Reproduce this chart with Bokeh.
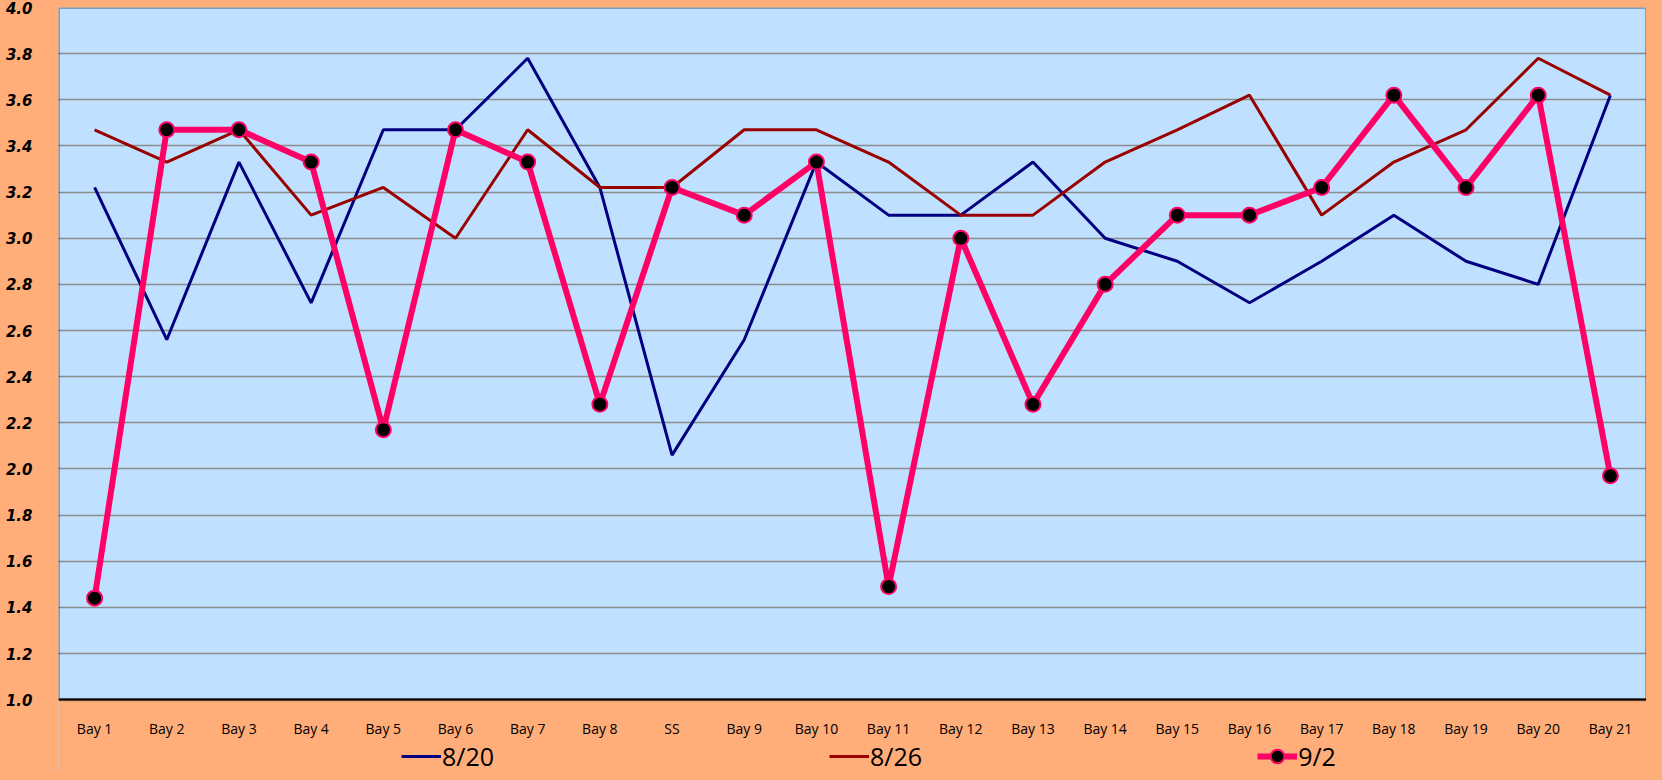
from bokeh.plotting import figure
from bokeh.models import (FactorRange, Range1d, Legend, LegendItem, FixedTicker,
                          NumeralTickFormatter, ColumnDataSource, BoxAnnotation)
from bokeh.embed import file_html
from bokeh.resources import INLINE

categories = ["Bay 1", "Bay 2", "Bay 3", "Bay 4", "Bay 5", "Bay 6", "Bay 7", "Bay 8", "SS",
              "Bay 9", "Bay 10", "Bay 11", "Bay 12", "Bay 13", "Bay 14", "Bay 15", "Bay 16",
              "Bay 17", "Bay 18", "Bay 19", "Bay 20", "Bay 21"]
s_0820 = [3.22, 2.56, 3.33, 2.72, 3.47, 3.47, 3.78, 3.22, 2.06, 2.56, 3.33, 3.10, 3.10,
          3.33, 3.00, 2.90, 2.72, 2.90, 3.10, 2.90, 2.80, 3.62]
s_0826 = [3.47, 3.33, 3.47, 3.10, 3.22, 3.00, 3.47, 3.22, 3.22, 3.47, 3.47, 3.33, 3.10,
          3.10, 3.33, 3.47, 3.62, 3.10, 3.33, 3.47, 3.78, 3.62]
s_0902 = [1.44, 3.47, 3.47, 3.33, 2.17, 3.47, 3.33, 2.28, 3.22, 3.10, 3.33, 1.49, 3.00,
          2.28, 2.80, 3.10, 3.10, 3.22, 3.62, 3.22, 3.62, 1.97]
series_labels = ["8/20", "8/26", "9/2"]
y_ticks = [1.0, 1.2, 1.4, 1.6, 1.8, 2.0, 2.2, 2.4, 2.6, 2.8, 3.0, 3.2, 3.4, 3.6, 3.8, 4.0]
y_min, y_max = 1.0, 4.0

ORANGE = "#FFAD79"
src = ColumnDataSource(dict(x=categories, a=s_0820, b=s_0826, c=s_0902))

# layout (pixels): value area 684 px tall; the frame continues below it as a label/legend strip
FIG_W, FIG_H, TOP, AREA_H, BELOW_PAD = 1646, 772, 7, 684, 9
strip = FIG_H - TOP - BELOW_PAD - AREA_H
y_lo = y_min - strip * (y_max - y_min) / AREA_H

p = figure(width=FIG_W, height=FIG_H, x_range=FactorRange(*categories),
           y_range=Range1d(y_lo, y_max),
           output_backend="svg", toolbar_location=None,
           min_border_left=58, min_border_right=0, min_border_top=TOP, min_border_bottom=0)
p.background_fill_color = "#C0E0FF"
p.border_fill_color = ORANGE
p.outline_line_color = None

p.xgrid.grid_line_color = None
p.ygrid.grid_line_color = "#8C8C8C"
p.ygrid.grid_line_width = 1.5

p.yaxis.ticker = FixedTicker(ticks=y_ticks)
p.yaxis.formatter = NumeralTickFormatter(format="0.0")
p.yaxis.major_label_text_font = "DejaVu Sans"
p.yaxis.major_label_text_font_style = "bold italic"
p.yaxis.major_label_text_font_size = "15px"
p.yaxis.major_label_text_color = "#000000"
p.yaxis.major_label_standoff = 20
p.yaxis.axis_line_color = None
p.yaxis.major_tick_line_color = None
p.yaxis.minor_tick_line_color = None

p.xaxis.fixed_location = y_min
p.xaxis.major_label_text_font = "Open Sans"
p.xaxis.major_label_text_font_size = "14px"
p.xaxis.major_label_text_color = "#000000"
p.xaxis.major_label_standoff = 13
p.xaxis.axis_line_color = "#000000"
p.xaxis.axis_line_width = 2
p.xaxis.major_tick_line_color = None
p.xaxis.minor_tick_line_color = None

# orange strip below the value area, and the dark border round the value area
p.add_layout(BoxAnnotation(top=y_min, fill_color=ORANGE, fill_alpha=1.0,
                           line_color=ORANGE, line_width=2, level="underlay"))
p.add_layout(BoxAnnotation(bottom=y_min, top=y_max, fill_alpha=0,
                           line_color="#000000", line_width=3, level="overlay"))

r1 = p.line("x", "a", source=src, line_color="#000080", line_width=3)
r2 = p.line("x", "b", source=src, line_color="#990000", line_width=3)
r3 = p.line("x", "c", source=src, line_color="#FF0066", line_width=6)
r3m = p.scatter("x", "c", source=src, size=15, fill_color="#000000",
                line_color="#FF0066", line_width=2)

legend = Legend(items=[LegendItem(label=series_labels[0], renderers=[r1]),
                       LegendItem(label=series_labels[1], renderers=[r2]),
                       LegendItem(label=series_labels[2], renderers=[r3, r3m])],
                orientation="horizontal", location=(343, -1), spacing=335,
                glyph_width=40, glyph_height=34, label_standoff=1,
                label_text_font="Open Sans", label_text_font_size="25px",
                label_text_color="#000000",
                label_height=34, padding=0, margin=0,
                background_fill_alpha=0, border_line_alpha=0)
p.add_layout(legend, "center")

html = file_html(p, INLINE)
html = html.replace("<head>", "<head><style>html,body{background:%s;}</style>" % ORANGE, 1)
open("out.html", "w").write(html)
